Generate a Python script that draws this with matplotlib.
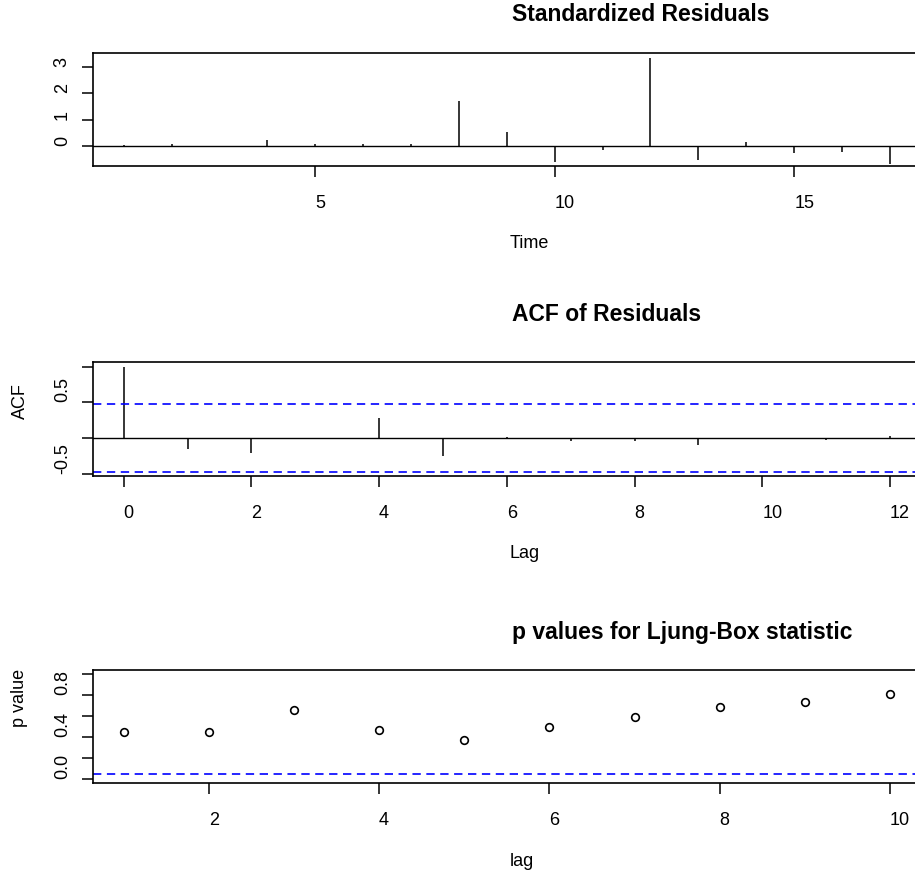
import numpy as np
import matplotlib
matplotlib.use("Agg")
import matplotlib.pyplot as plt
from matplotlib.transforms import blended_transform_factory

# standardized residuals, time 1..17
time = np.arange(1, 18)
std_resid = [0.02, 0.06, -0.02, 0.21, 0.06, 0.06, 0.06, 1.72, 0.52, -0.61,
             -0.16, 3.36, -0.53, 0.14, -0.28, -0.21, -0.67]

# acf of residuals
acf_lag = np.arange(0, 13)
acf_vals = [1.0, -0.16, -0.21, -0.01, 0.285, -0.256, 0.01, -0.045, -0.045,
            -0.096, -0.01, -0.023, 0.027]
acf_ci = 0.47

# ljung-box p values
lb_lag = np.arange(1, 11)
lb_pvals = [0.45, 0.45, 0.657, 0.467, 0.371, 0.498, 0.593, 0.689, 0.736, 0.815]
lb_level = 0.05

plt.rcParams['font.family'] = ['Liberation Sans', 'DejaVu Sans']
plt.rcParams['lines.scale_dashes'] = False

W, H = 915, 875
BLUE = '#0000ff'


def r_lim(vals):
    # R style 4% padding
    lo, hi = min(vals), max(vals)
    ext = 0.04 * (hi - lo)
    return lo - ext, hi + ext


def make_ax(fig, top, bottom):
    ax = fig.add_axes([93 / W, 1 - bottom / H, (920.6 - 93) / W, (bottom - top) / H])
    for s in ax.spines.values():
        s.set_linewidth(1.2)
    ax.tick_params(axis='both', length=8, width=1.1, color='k')
    ax.tick_params(axis='x', pad=13, labelsize=13)
    ax.tick_params(axis='y', pad=8, labelsize=13)
    return ax


def labels(fig, ax, title, xlab, ylab, title_off):
    ax.annotate(title, xy=(0.5, 1), xycoords='axes fraction',
                xytext=(5, title_off), textcoords='offset pixels',
                ha='left', va='center', fontsize=16.5, fontweight='bold')
    ax.annotate(xlab, xy=(0.5, 0), xycoords='axes fraction',
                xytext=(3, -78), textcoords='offset pixels',
                ha='left', va='center', fontsize=13)
    if ylab:
        tr = blended_transform_factory(fig.transFigure, ax.transAxes)
        ax.text(20 / W, 0.5, ylab, transform=tr, rotation=90,
                rotation_mode='anchor', ha='left', va='center', fontsize=13)


fig = plt.figure(figsize=(W / 100, H / 100), dpi=100)

# standardized residuals
ax1 = make_ax(fig, 52.5, 166)
ax1.vlines(time, 0, std_resid, colors='k', lw=1.1)
ax1.axhline(0, color='k', lw=1.0)
ax1.set_xlim(r_lim(time))
ax1.set_ylim(-0.76, 3.55)
ax1.set_xticks([5, 10, 15], ['5', '10', '15'], ha='left')
ax1.set_yticks([0, 1, 2, 3], ['0', '1', '2', '3'], rotation=90, va='bottom', ha='right')
labels(fig, ax1, 'Standardized Residuals', 'Time', None, 38)

# acf
ax2 = make_ax(fig, 362.3, 475.7)
ax2.vlines(acf_lag, 0, acf_vals, colors='k', lw=1.1)
ax2.axhline(0, color='k', lw=1.0)
ax2.axhline(acf_ci, color=BLUE, lw=1.2, ls=(0, (6, 4)))
ax2.axhline(-acf_ci, color=BLUE, lw=1.2, ls=(0, (6, 4)))
ax2.set_xlim(r_lim(acf_lag))
ax2.set_ylim(r_lim(list(acf_vals) + [acf_ci, -acf_ci]))
ax2.set_xticks(np.arange(0, 13, 2), [str(v) for v in range(0, 13, 2)], ha='left')
ax2.set_yticks([-0.5, 0, 0.5, 1.0], ['-0.5', '', '0.5', ''], rotation=90, va='bottom', ha='right')
labels(fig, ax2, 'ACF of Residuals', 'Lag', 'ACF', 48)

# ljung-box
ax3 = make_ax(fig, 670, 783.3)
ax3.plot(lb_lag, lb_pvals, 'o', mfc='none', mec='k', ms=5.5, mew=1.2)
ax3.axhline(lb_level, color=BLUE, lw=1.2, ls=(0, (6, 4)))
ax3.set_xlim(r_lim(lb_lag))
ax3.set_ylim(r_lim([0, 1]))
ax3.set_xticks([2, 4, 6, 8, 10], ['2', '4', '6', '8', '10'], ha='left')
ax3.set_yticks([0, 0.2, 0.4, 0.6, 0.8, 1.0], ['0.0', '', '0.4', '', '0.8', ''],
               rotation=90, va='bottom', ha='right')
labels(fig, ax3, 'p values for Ljung-Box statistic', 'lag', 'p value', 38)

fig.savefig('out.png', dpi=100)
